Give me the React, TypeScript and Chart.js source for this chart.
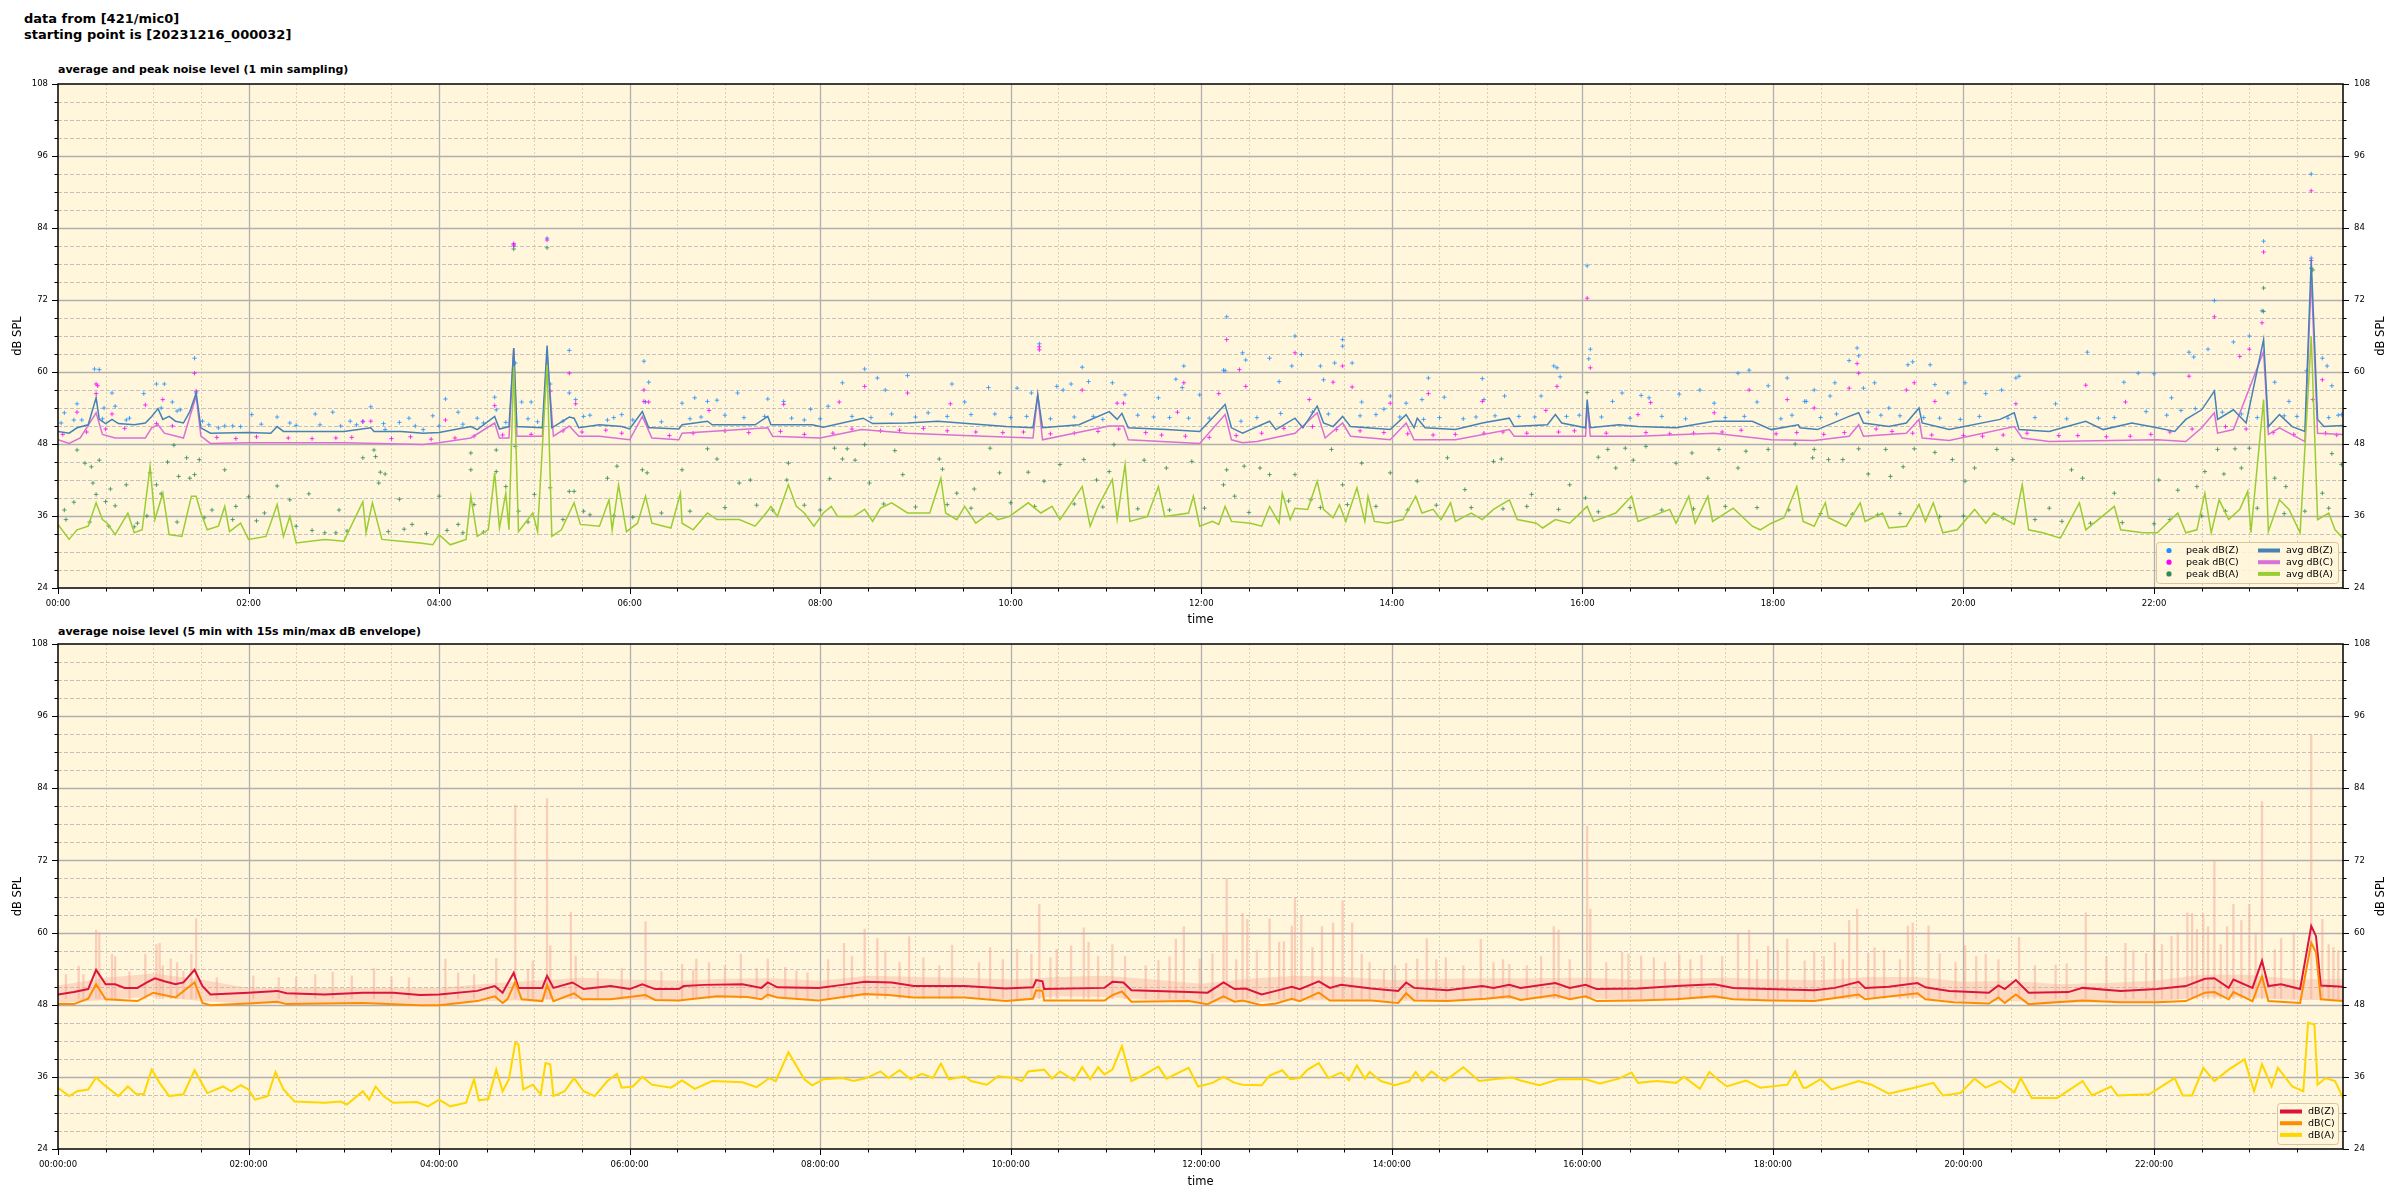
import React, { useEffect, useRef } from "react";
import { Chart, registerables } from "chart.js";
Chart.register(...registerables);

const FONT = '"DejaVu Sans", Verdana, sans-serif';
const BG = "#fff6dc";

// ---- axis ticks (minutes since start / dB) ----
const X_TICKS = [0, 120, 240, 360, 480, 600, 720, 840, 960, 1080, 1200, 1320];
const Y_TICKS = [24, 36, 48, 60, 72, 84, 96, 108];
const X_MAX = 1439;

// ================= TOP PANEL (1 min sampling) =================
// avg dB(Z) [minute, dB]
const avgZTop = [[0,50.1],[7,49.8],[12,50.7],[19,51.2],[24,55.7],[26,52.1],[30,51.4],[34,52.1],[38,51.4],[48,51.2],[55,51.5],[59,52.6],[63,53.9],[66,52.1],[70,52.6],[74,51.8],[79,51.5],[83,53.4],[87,56.5],[90,50.7],[96,49.8],[120,49.9],[134,49.8],[138,50.9],[142,50.1],[156,50.1],[180,50.1],[197,50.7],[199,50.1],[216,50.1],[230,49.8],[240,49.9],[250,50.4],[260,50.9],[264,50.4],[275,52.6],[278,50.5],[284,50.9],[287,64],[289,50.9],[305,50.7],[308,64.4],[311,50.7],[322,52.5],[325,52.3],[328,50.7],[341,51.2],[355,50.9],[360,50.5],[368,53.4],[372,50.7],
[374,50.7],[391,50.5],[393,51.2],[409,51.8],[412,51.2],[439,51.2],[447,52.6],[449,51.2],[475,51.2],[482,50.8],[507,52.3],[513,51.4],[535,51.5],[554,51.8],[583,51.2],[597,50.9],[614,50.7],[617,56.2],[620,50.7],[643,51.2],[662,53.4],[667,52.1],[670,53.1],[674,50.7],[698,50.4],[719,50.1],[735,54.6],[739,50.7],
[746,49.8],[751,50.4],[763,51.8],[767,50.4],[779,52.3],[784,50.7],[793,54.3],[797,51.5],[803,50.9],[809,52.6],[814,50.9],[839,50.4],[849,52.9],[854,50.7],[856,52.3],[861,50.7],[880,50.4],[897,51.5],[914,52.3],[917,50.9],[938,51.2],[943,52.9],[947,51.5],[962,50.7],[963,55.4],[965,50.7],[983,51.2],[995,50.9],[1019,50.7],[1043,51.8],[1067,51.8],[1079,50.4],[1096,51.2],
[1097,50.7],[1108,50.4],[1128,52.6],[1134,53.2],[1137,51.5],[1153,50.9],[1164,51.5],[1172,54],[1174,51.5],[1191,50.4],[1223,52.1],[1232,53.2],[1235,50.4],[1254,50.1],[1277,51.8],[1288,50.4],[1306,51.5],[1322,50.7],[1333,50.1],[1340,52.1],[1350,53.7],[1358,56.8],[1360,52.1],[1370,53.7],[1378,51.5],[1389,65.4],[1392,50.9],[1399,52.9],[1407,50.9],[1415,50.1],[1419,78.7],[1423,52.1],[1427,50.9],[1439,51.1]];

// avg dB(C)
const avgCTop = [[0,48.7],[7,48.1],[14,49],[24,53.2],[28,49.6],[36,49],[55,49],[59,50.7],[63,51.2],[67,49.8],[79,49],[87,56],[90,49.3],[96,48.1],[120,48.2],[180,48.2],[230,47.9],[240,48.2],[260,49],[275,51.5],[278,49],[284,49],[287,64],[289,49.3],[305,49.3],[308,63],[312,49.3],[322,51],[328,49.3],[341,49.3],[360,48.7],[368,52.6],[374,49],
[391,48.7],[393,49.8],[447,50.7],[450,49.3],[480,49],[506,50.4],[535,49.8],[583,49.3],[614,49],[617,56.2],[620,48.7],[662,51],[671,51],[674,48.7],[719,48.1],[735,52.9],[739,48.7],
[746,48.2],[755,48.4],[779,49.8],[793,53.2],[798,49],[809,51.5],[814,49.3],[839,48.7],[849,51.5],[854,48.7],[880,48.7],[914,50.4],[917,49.3],[962,49.3],[963,54.3],[965,49.3],[995,49.3],[1043,49.8],[1079,48.7],[1106,48.6],
[1128,49.3],[1134,51.2],[1137,49.3],[1164,49.8],[1172,52.1],[1174,49],[1191,48.6],[1232,50.9],[1237,49],[1254,48.4],[1322,48.7],[1340,48.4],[1350,50.7],[1358,53.2],[1360,49.8],[1370,50.4],[1389,63.4],[1392,49.6],[1399,50.7],[1415,48.4],[1419,75.9],[1423,49.8],[1439,49.6]];

// avg dB(A)
const avgATop = [[0,34.6],[7,32.1],[12,33.7],[19,34.3],[24,38.2],[28,35.4],[31,34.8],[36,32.9],[44,36.5],[48,33.2],[53,33.7],[58,44.3],[61,35.4],[66,39.8],[70,32.9],[78,32.6],[84,39.3],[87,39.3],[90,36.5],[94,33.7],[101,34.3],[105,37.6],[108,33.4],[115,34.8],[120,32.1],[131,32.6],[138,37.9],[142,32.6],[146,35.9],[150,31.5],[168,32.1],[180,31.8],[192,38.4],[194,33.2],[198,38.2],[204,32.1],[216,31.8],[228,31.5],[236,31.2],[240,32.9],[247,31.2],[257,32.1],[260,39.3],[264,32.6],[271,33.7],[275,43.2],[278,34],[282,39.8],[284,33.7],[287,60.9],[290,33.4],[299,36.5],[302,33.4],[308,61.2],[311,32.6],[317,33.7],[325,38.2],[329,34.6],[341,34.3],[347,38.7],[349,33.7],[353,41.2],[358,33.4],[365,34.8],[370,39.3],[374,34.8],
[386,34],[392,39.8],[393,34.8],[400,33.7],[409,36.5],[415,35.4],[429,35.4],[439,34.3],[446,36.5],[449,37.6],[453,35.9],[460,41.2],[465,37.6],[470,36.5],[476,34.3],[482,36.5],[487,37.6],[491,35.9],[501,35.9],[508,37.1],[513,35.1],[518,37.3],[525,38.2],[535,36.5],[549,36.5],[556,42.3],[559,36.5],[566,35.4],[571,37.6],[578,34.8],[587,36.5],[592,35.4],[599,35.9],[611,38.2],[619,36.5],[626,37.6],[631,35.4],[645,40.9],[650,34.3],[655,37.6],[664,42.1],[667,35.4],[672,44.6],[675,35.1],[686,35.9],[693,40.9],[697,35.9],[712,36.5],[715,39.3],[719,34.3],[727,35.1],[731,34.6],[735,37.6],
[739,35.1],[751,34.8],[758,34.3],[763,37.6],[769,34.8],[771,39.8],[776,35.4],[779,37.3],[787,37.1],[793,41.8],[797,37.1],[803,35.7],[807,37.9],[811,35.1],[818,40.7],[823,35.1],[825,39.3],[829,35.1],[837,34.8],[847,35.4],[855,39.3],[859,36.5],[866,37.1],[871,35.4],[877,38.2],[880,35.1],[890,36.5],[897,35.4],[904,37.1],[914,38.7],[919,35.4],[931,34.8],[935,34],[943,35.4],[952,34.8],[963,37.6],[967,35.1],[981,36.5],[991,39.3],[995,35.1],[1015,37.1],[1019,34.8],[1027,39.3],[1031,34.8],[1039,39.3],[1042,35.1],[1055,37.3],[1067,34.3],[1072,33.7],[1079,34.8],[1087,35.7],[1095,40.9],[1099,35.1],
[1106,34.3],[1113,38.2],[1115,35.7],[1126,34.3],[1135,38.2],[1138,35.1],[1149,36.5],[1153,34],[1164,34.3],[1172,37.9],[1176,35.1],[1181,38.2],[1187,33.2],[1196,33.7],[1207,37.1],[1214,34.8],[1219,36.5],[1232,34.6],[1237,41.2],[1241,33.7],[1250,33.2],[1261,32.3],[1273,38.2],[1277,33.7],[1295,37.6],[1299,33.7],[1313,33.2],[1322,33.2],[1335,36.5],[1340,33.2],[1347,33.7],[1352,39.8],[1356,33.2],[1361,38.7],[1367,35.4],[1374,37.1],[1379,40.1],[1381,33.2],[1389,55.4],[1392,33.4],[1399,38.7],[1405,37.1],[1412,33.2],[1419,65.9],[1423,35.4],[1430,36.5],[1434,33.7],[1439,32.3]];

// peak dB(Z) scatter
const peakZ = [[2,51.5],[15,52],[28,52.2],[45,52.3],[65,54],[75,53.5],[95,51.2],[105,51],[115,50.9],[128,51.3],[150,51.1],[165,51.2],[178,51],[188,51.2],[205,51.4],[215,51.6],[225,51],[240,51],[255,51.3],[268,51.5],[282,51.6],[296,52.2],[302,51.7],[318,51.8],[335,52.8],[350,52.4],[362,52],[380,51.7],[398,52.2],[405,52.5],[420,52.8],[432,52.4],[445,52.6],[462,52.3],[470,52],[480,52.2],[500,52.6],[512,52.4],[525,53],[540,52.5],[548,53.2],[560,52.6],[575,52.9],[590,53],[600,52.4],[610,52.6],[625,52.2],[640,52.5],[652,52.6],[658,52.1],[680,52.8],[690,52.5],[700,52.4],[712,52.3],[725,52.3],[745,51.8],[755,52.4],[770,53.1],[790,53.3],[800,53],[820,52.7],[830,52.9],[845,52.5],[860,52.1],[870,52.4],[885,52.2],[893,52.5],[905,52.7],[920,52.6],[930,52.5],[950,52.6],[958,52.8],[972,52.5],[990,52.3],[1010,52.6],[1025,52.2],[1050,52.4],[1062,52.6],[1085,52.2],[1092,52.8],[1110,52.4],[1120,53],[1140,53.3],[1148,52.8],[1160,52.7],[1175,52.4],[1185,52.3],[1198,52.1],[1210,52.6],[1228,52.3],[1245,52.4],[1265,52.2],[1285,52.3],[1295,52.4],[1315,53.4],[1328,52.8],[1337,53.6],[1346,53.9],[1363,53.3],[1375,53],[1385,52.4],[1402,52.7],[1410,52.6],[1430,52.4],[1436,52.8],
[4,53.2],[10,52],[12,54.7],[23,60.5],[26,60.4],[29,54],[34,56.5],[36,54.3],[43,52],[54,56.4],[62,58],[67,58],[72,55],[77,53.7],[86,62.3],[87,56.5],[91,51.8],[101,50.7],[110,51],[122,52.9],[138,52.5],[146,51.5],[162,53],[173,53.3],[184,51.8],[192,51.7],[197,54.2],[206,50.4],[221,52.3],[230,50.4],[236,52.7],[244,55.5],[252,53.3],[264,52.3],[275,55.8],[276,53.7],[287,81.2],[288,61.5],[292,55],[298,55],[308,82.3],[310,58],[322,63.6],[322,56.5],[326,55.4],[331,52.6],[346,52],[355,52.9],[369,61.8],[370,55],
[372,58.3],[393,54.8],[401,55.7],[409,55.1],[415,55.3],[428,56.5],[447,55.5],[457,55.1],[474,53.8],[485,54.3],[494,58.2],[508,60.5],[516,59],[521,57],[535,59.4],[563,58],[571,55],[586,57.4],[604,57.3],[613,56.5],[618,64.7],[629,57.6],[633,57],[638,58],[645,60.8],[649,58.4],[664,58.2],[672,56.2],[693,55.7],[704,58.8],[708,57.4],[709,61],[719,56.2],[734,60.3],[736,69.2],
[735,60.2],[746,63.2],[748,62],[763,62.3],[769,58.4],[777,61],[779,66],[783,62.9],[795,61],[797,58.7],[804,61.5],[809,65.4],[809,64.3],[815,61.5],[821,55],[835,53.8],[839,56],[849,54.8],[859,55.4],[863,59],[873,55.8],[897,58.9],[898,55.4],[911,56],[934,56],[942,61],[944,60.7],[946,59.2],[963,77.7],[965,63.8],[964,62.2],[979,55.1],[985,56.5],[997,56.1],[1002,55.7],[1021,56.3],[1034,57],[1043,54.8],[1058,59.8],[1065,60.3],[1070,55],[1077,57.7],[1089,59],[1100,55.1],
[1101,55.1],[1106,57],[1116,56],[1119,58.2],[1128,61.9],[1133,64],[1134,62.7],[1137,57.3],[1144,58.2],[1153,54],[1165,61.2],[1168,61.7],[1179,61.2],[1182,57.9],[1190,56.5],[1201,58.2],[1214,56.4],[1224,57],[1233,59],[1235,59.3],[1258,54.7],[1278,63.3],[1301,58.3],[1310,59.8],[1320,59.7],[1331,55.7],[1342,63.3],[1345,62.5],[1354,63.8],[1358,71.9],[1370,65],[1380,66],[1389,81.8],[1388,70.2],[1396,58.3],[1405,55.1],[1416,60.2],[1419,79],[1419,93],[1426,62.3],[1429,61],[1432,57.7],[1438,52.9]];

// peak dB(C) scatter
const peakC = [[3,49.6],[18,50],[30,50.5],[42,50.6],[62,51.4],[72,51],[100,49.1],[112,48.9],[125,49.2],[145,49],[160,48.9],[175,49],[185,49.1],[210,48.9],[222,49.2],[235,48.8],[250,49],[262,49.3],[280,49.5],[298,49.6],[318,50.2],[330,50],[345,50.3],[355,49.8],[385,49.4],[400,49.8],[420,50.2],[435,49.9],[455,50.1],[470,49.6],[488,49.8],[500,50.5],[518,50.2],[530,50.3],[545,50.6],[560,50.2],[578,50],[595,49.9],[608,50],[625,49.7],[640,49.8],[655,50.1],[668,50.5],[685,49.9],[695,49.5],[710,49.3],[725,49.1],[742,49.4],[758,49.8],[772,50.6],[790,50.9],[805,50.4],[820,50.2],[835,49.9],[850,49.7],[866,49.5],[880,49.6],[898,49.8],[910,50],[925,49.8],[945,50],[955,50.2],[975,49.8],[1000,49.9],[1015,49.7],[1030,49.8],[1048,50],[1060,50.3],[1082,49.7],[1095,49.9],[1112,49.6],[1125,49.9],[1145,50.5],[1155,50.1],[1168,49.8],[1180,49.5],[1200,49.4],[1212,49.3],[1225,49.5],[1240,49.8],[1260,49.4],[1272,49.4],[1290,49.2],[1305,49.3],[1318,49.6],[1330,50],[1344,50.5],[1365,50.9],[1378,50.5],[1395,49.9],[1408,49.6],[1428,49.8],[1435,49.5],
[12,53.3],[24,58],[25,57.7],[24,56.4],[34,53],[55,54.5],[66,55.4],[86,59.8],[87,56.8],[192,51.8],[197,51.8],[244,52],[275,54.4],[287,81.4],[287,81],[308,82],[310,56.8],[322,59.8],[326,54.7],[369,57],[369,55.1],[372,55],[410,53.6],[457,54.6],[492,55],[508,57.6],[535,56.5],[562,54.7],[618,63.7],[618,64.2],[645,57],[667,54.8],[671,54.8],[705,53.3],[709,58.2],[731,56.4],[736,65.4],[744,60.4],[748,57.6],[779,63.2],[788,55.4],[803,58.3],[809,61],[815,57.5],[839,54.8],[863,56.4],[897,55.1],[937,53.6],[944,57.6],[963,72.3],[965,60.7],[995,52.9],[1003,54.9],[1043,53.2],[1065,57],[1089,55.4],[1106,54],[1128,57.3],[1133,61.4],[1134,59.8],[1164,57],[1169,58.2],[1182,55.1],[1233,54.7],[1277,57.8],[1302,55],[1342,59.3],[1358,69.2],[1374,62.6],[1380,63.8],[1389,80],[1388,68.2],[1419,78.6],[1419,90.2],[1426,58.7],[1420,55.4]];

// peak dB(A) scatter
const peakA = [[5,35.4],[20,35],[32,34.3],[48,34.2],[56,36],[75,35],[92,35.7],[110,35.4],[125,35.2],[150,34.3],[160,33.6],[175,33.2],[182,33.5],[208,33.4],[218,33.8],[232,33.1],[245,33.6],[255,33.2],[268,33.3],[296,35],[318,35.4],[335,36.2],[350,36],[362,35.8],[380,36.5],[398,36.8],[420,37.4],[440,37.8],[450,37],[470,37.8],[480,37],[520,38],[540,37.5],[560,37.9],[575,37.3],[600,38.2],[615,37.6],[640,38],[658,37.5],[680,37.2],[700,37],[722,37.3],[750,36.6],[775,38.5],[795,37.4],[812,37.9],[830,37.6],[850,37],[868,37.8],[890,37.4],[910,37.2],[925,37.6],[945,37.1],[970,36.7],[990,37.4],[1010,37],[1030,37.2],[1050,37.6],[1070,37.4],[1090,37],[1110,36.4],[1130,36.3],[1146,36.2],[1160,36.4],[1185,35.9],[1200,36],[1225,35.6],[1245,35.4],[1262,35.1],[1280,34.8],[1300,34.9],[1320,34.7],[1330,35.4],[1350,36],[1365,36.8],[1385,37.3],[1402,36.4],[1415,36.8],[1430,37.3],
[4,37],[10,38.3],[12,47],[17,44.8],[21,44.2],[22,41.5],[24,39.6],[26,45.3],[30,38.4],[33,40.5],[36,37.7],[43,41.2],[50,34.8],[58,43.2],[62,41.2],[65,39.7],[69,45],[73,47.8],[76,42.6],[81,45.7],[83,42.3],[86,42.9],[89,45.4],[97,37],[105,43.7],[112,37.6],[120,39.2],[130,36.5],[138,41],[146,38.7],[158,39.7],[168,33.2],[177,37],[192,45.7],[199,47],[200,45.9],[202,41.5],[203,43.3],[206,43],[215,38.8],[223,34.6],[240,39.3],[252,34.6],[260,46.5],[260,43.7],[262,37.9],[276,47],[276,43.4],[282,40.9],[287,80.5],[288,47.6],[290,36.8],[300,39.6],[308,80.7],[310,40.7],[322,40.1],[325,40.1],[331,36.8],[346,42.3],[352,44.3],[368,43.7],[371,43.2],
[393,43.7],[409,47.2],[415,45.5],[429,41.5],[436,42],[459,42],[460,44.8],[486,42.2],[489,47.3],[494,45.5],[497,47.2],[502,45.3],[508,47.9],[511,41.5],[527,46.9],[532,42.9],[555,45.5],[557,43.8],[566,39.8],[577,40.5],[587,47.3],[593,43.2],[611,43.3],[621,41.8],[631,44.6],[646,45.4],[654,42],[662,43.4],[665,47.9],[684,45.3],[698,44],[714,45.1],[736,43.7],[741,39.3],
[734,41.2],[747,44.3],[757,44],[763,42.9],[779,42.9],[789,38.7],[802,47.1],[809,41.2],[821,44.8],[839,43.2],[856,41.8],[875,45.7],[886,40.4],[904,45.1],[909,45.5],[928,39.6],[952,41.2],[963,56.6],[962,39],[970,45.8],[976,47.1],[981,44],[987,47.3],[992,45.3],[1000,47.6],[1019,44.8],[1029,46.5],[1039,42.3],[1046,47.1],[1058,44],[1063,46.8],[1077,47.1],[1094,48],[1105,45.7],
[1106,47.1],[1115,45.4],[1124,45.4],[1134,47.2],[1140,43],[1151,47.1],[1154,42.6],[1162,44.2],[1169,47.2],[1182,46.6],[1193,45.4],[1201,41.8],[1207,44],[1221,47.1],[1231,45.4],[1254,37.3],[1268,43.7],[1275,42.3],[1295,39.8],[1323,42],[1335,40.3],[1347,40.9],[1352,43.4],[1360,47.1],[1364,43],[1371,47.2],[1375,44],[1380,47.3],[1389,74],[1389,70.1],[1396,42.3],[1403,40.9],[1419,77.3],[1420,77],[1426,39.8],[1432,46.4],[1438,44.6]];

// ================= BOTTOM PANEL (5 min avg + 15s envelope) =================
const botZ = [[0,49.7],[10,50.1],[19,50.6],[24,53.8],[30,51.4],[36,51.4],[42,50.8],[50,50.8],[56,51.7],[61,52.4],[67,51.9],[74,51.4],[79,51.7],[86,53.8],[91,51.1],[96,49.7],[120,50],[138,50.3],[144,49.9],[168,49.7],[192,50],[211,50],[228,49.6],[240,49.7],[264,50.3],[275,51.1],[280,50],[287,53.3],[290,50.8],[305,50.8],[308,52.8],[312,50.8],[324,51.7],[331,50.6],[348,51.1],[360,50.6],[368,51.4],
[376,50.6],[391,50.6],[394,51.1],[407,51.3],[431,51.4],[443,50.8],[447,51.7],[453,50.9],[479,50.8],[494,51.3],[508,51.8],[525,51.7],[539,51.1],[571,51.1],[597,50.7],[614,50.9],[616,52.1],[620,51.9],[621,50.6],[659,50.8],[664,51.8],[671,51.7],[676,50.4],[712,50.1],[724,50],[734,51.7],[741,50.6],
[748,50.7],[758,49.7],[767,50.3],[777,51],[782,50.6],[794,51.9],[801,50.8],[808,51.3],[827,50.7],[844,50.3],[849,51.7],[854,50.8],[875,50.4],[897,51.1],[904,50.8],[914,51.3],[921,50.8],[943,51.6],[952,50.8],[962,51.3],[969,50.6],[995,50.7],[1019,51.1],[1043,51.4],[1055,50.8],[1077,50.6],[1106,50.4],
[1119,50.8],[1134,51.8],[1138,50.8],[1153,51],[1171,51.6],[1176,50.9],[1191,50.3],[1216,50],[1222,51.2],[1226,50.6],[1233,52.1],[1241,50],[1266,50.1],[1275,50.8],[1299,50.3],[1322,50.6],[1340,51.1],[1352,52.3],[1358,52.4],[1367,50.8],[1370,52.2],[1382,50.8],[1388,55.3],[1392,51.1],[1400,51.4],[1412,50.6],[1419,61.1],[1422,59.4],[1425,51.2],[1439,51]];

const botC = [[0,48.1],[10,48.1],[19,49],[24,51.4],[30,48.9],[50,48.6],[60,50],[74,49.2],[86,51.7],[91,48.3],[96,47.9],[120,48.2],[138,48.5],[144,48.1],[192,48.3],[228,47.9],[240,47.9],[264,48.6],[275,49.4],[280,48.3],[283,48.9],[288,51.8],[292,48.9],[305,48.6],[308,51.3],[312,48.6],[325,49.9],[330,48.9],[348,48.9],[370,49.6],[376,48.8],
[391,48.7],[415,49.4],[434,49.3],[443,48.9],[447,49.7],[453,49.2],[479,48.7],[508,49.8],[523,49.6],[539,49.2],[571,49.2],[597,48.6],[614,49],[616,50.4],[620,50.3],[621,48.7],[659,48.7],[664,49.6],[670,50.2],[676,48.5],[712,48.6],[724,48.1],[734,49.4],[741,48.5],
[746,48.7],[758,47.9],[767,48.2],[777,49],[782,48.6],[794,50],[801,48.7],[827,48.7],[844,48.3],[849,49.9],[854,48.7],[875,48.6],[899,49],[914,49.4],[921,48.8],[943,49.6],[952,48.9],[962,49.4],[969,48.6],[995,48.7],[1019,48.9],[1043,49.4],[1055,48.9],[1079,48.7],[1106,48.6],
[1134,49.7],[1138,48.9],[1171,49.9],[1176,48.9],[1194,48.4],[1216,48.2],[1222,49.2],[1226,48.3],[1233,49.7],[1241,48.1],[1275,48.7],[1299,48.4],[1322,48.4],[1340,48.6],[1352,50],[1358,50.1],[1367,48.9],[1370,50.1],[1382,48.6],[1388,52.7],[1392,48.6],[1412,48.3],[1419,58.3],[1422,56.7],[1425,48.9],[1439,48.6]];

const botA = [[0,34.2],[7,32.8],[12,33.6],[19,33.9],[24,35.9],[29,34.7],[38,32.8],[44,34.4],[49,33.2],[54,33.1],[59,37.2],[64,35],[70,32.8],[79,33.1],[86,37.1],[94,33.3],[104,34.4],[109,33.6],[115,34.6],[120,33.9],[124,32.2],[132,32.8],[137,36.8],[142,33.9],[149,31.9],[168,31.7],[178,31.9],[182,31.4],[192,33.6],[196,32.2],[200,34.4],[205,32.8],[211,31.7],[226,31.8],[233,31.1],[240,32.2],[247,31.1],[257,31.7],[262,35.6],[265,32.1],[271,32.3],[276,37.2],[280,33.6],[284,35.6],[288,41.7],[290,41.4],[293,33.9],[299,34.7],[304,33.1],[307,38.3],[310,38.1],[312,32.8],[319,33.6],[325,35.8],[331,33.6],[338,32.8],[346,35.3],[352,36.5],[355,34.2],[362,34.4],[368,36],[374,34.7],
[386,34.2],[393,35.4],[401,34],[412,35.3],[431,35.1],[440,34.3],[448,35.8],[452,35.3],[460,40.1],[470,35.6],[475,34.6],[482,35.6],[494,35.8],[501,35.3],[509,35.8],[518,36.9],[523,35.8],[530,37.1],[537,35.6],[544,36.5],[551,35.8],[556,38.2],[561,35.6],[571,36.1],[575,35.3],[585,34.7],[592,36.1],[602,35.8],[607,35.3],[611,36.9],[621,37.2],[626,35.7],[631,36.9],[640,35.4],[645,37.6],[650,35.6],[655,37.6],[659,36.4],[664,37.2],[670,41.1],[676,35.3],[683,36.2],[693,37.7],[698,35.7],[712,37.5],[718,34.4],[727,35],[734,36],[741,35],
[746,34.7],[758,34.6],[763,36.2],[771,37.1],[776,35.6],[782,35.8],[787,37.2],[794,38.3],[800,35.8],[808,36.7],[813,35.4],[818,37.9],[823,35.7],[826,36.8],[833,35.3],[842,34.6],[851,35.3],[855,36.8],[859,35.3],[865,36.9],[873,35.3],[878,36.2],[885,37.6],[895,35.3],[907,35.7],[916,35.9],[921,35.4],[933,34.6],[945,35.6],[962,35.6],[971,34.9],[983,35.7],[991,36.7],[995,35],[1007,35.3],[1019,35],[1024,36],[1034,34],[1040,36.8],[1046,35.4],[1051,34.4],[1063,35.4],[1072,34.2],[1089,34.7],[1094,36.9],[1099,34.2],
[1101,34.2],[1110,35.6],[1117,33.9],[1134,35.3],[1142,34.7],[1153,33.2],[1169,34.2],[1181,35],[1187,32.9],[1198,33.3],[1207,35.7],[1214,34.2],[1223,35.3],[1232,33.4],[1236,35.8],[1243,32.5],[1259,32.5],[1275,35.3],[1281,32.9],[1293,34.4],[1297,32.9],[1317,33.1],[1333,35.8],[1338,32.9],[1344,32.9],[1351,37.5],[1358,35.3],[1367,37.2],[1377,38.9],[1383,33.6],[1388,38.1],[1394,34.4],[1398,37.5],[1407,34.4],[1414,33.6],[1417,45],[1421,44.7],[1423,34.7],[1428,35.8],[1434,35.3],[1439,32.5]];

// 15 s min/max envelope: band sampled every 30 min
const envBandT = [0,30,60,90,120,150,180,210,240,270,300,330,360,390,420,450,480,510,540,570,600,630,660,690,720,750,780,810,840,870,900,930,960,990,1020,1050,1080,1110,1140,1170,1200,1230,1260,1290,1320,1350,1380,1410,1439];
const envBandLo = [48.3,48.8,49.4,48.6,48.2,48.2,48.2,48.2,48.1,48.6,48.8,49,48.8,48.8,49.2,49.2,48.9,49.5,49.4,49.3,48.8,49.4,49.3,48.8,48.4,48.4,48.7,48.8,48.6,48.7,48.9,49,49.1,48.8,48.9,49,48.8,48.8,49.2,49.2,48.5,48.6,48.3,48.4,48.5,49.3,49.2,48.8,48.8];
const envBandHi = [51.2,52.5,53.2,52.2,50.8,50.8,50.8,50.8,50.8,51.5,52,52.5,52.2,52,52.3,52.4,52,52.8,52.6,52.5,52.2,52.6,52.8,52.2,51.5,52.3,52.8,52.6,52.1,52.3,52.4,52.4,52.5,52.2,52.3,52.5,52.2,52.1,52.6,52.6,51.8,52,51.4,51.6,52,53,53,52.2,52.3];
// envelope maxima (spikes) [minute, max dB]
const envSpikes = [[5,53],[13,54.4],[24,60.4],[26,60],[34,56.4],[36,56],[55,56.4],[62,58],[64,58.2],[71,55.6],[79,53.6],[84,56.4],[87,62.3],[123,52.8],[139,52.5],[162,53],[173,53.4],[199,54],[221,52.5],[244,55.6],[252,53.3],[276,55.7],[288,81.2],[299,55.3],[308,82.3],[310,57.8],[323,63.4],[326,56.1],[370,61.8],
[393,54.7],[402,55.6],[410,55],[430,56.4],[447,55.6],[458,54.2],[472,53.3],[495,58.2],[508,60.6],[516,59],[521,57],[536,59.3],[563,57.9],[587,57.5],[604,57.2],[613,56.4],[618,64.7],[629,57.2],[638,57.8],[646,60.8],[649,58.4],[664,58],[672,56],[693,55.4],[704,58.9],[709,61],[719,55.6],[734,59.9],[736,69],
[746,63.2],[749,62.2],[763,62.3],[769,58.4],[777,61.1],[779,65.7],[783,62.8],[796,61],[803,61.6],[809,65.3],[815,61.6],[821,56.4],[835,53.9],[849,54.9],[856,55.6],[862,59],[874,55.8],[896,58.9],[904,55],[914,54.7],[934,56],[942,61],[945,60.4],[963,77.7],[965,63.9],[985,56.7],[989,56.4],[997,56.1],[1021,56.4],[1035,56.2],[1058,59.7],[1065,60.4],[1077,57.7],[1089,58.9],[1100,55.3],
[1106,56.9],[1119,58.3],[1128,62],[1133,63.9],[1144,57.5],[1165,61.1],[1168,61.6],[1178,61.1],[1201,57.8],[1214,56.4],[1235,59.2],[1258,54.6],[1277,63.3],[1302,58.2],[1320,59.7],[1331,59.4],[1341,63.3],[1344,63.2],[1351,63.1],[1358,71.8],[1370,64.7],[1380,64.7],[1388,81.8],[1396,57.2],[1419,92.8],[1426,62.2],[1433,57.5],
[16,53],[45,53.5],[66,54.5],[75,55],[100,52.5],[150,52.6],[185,52.8],[210,52.6],[262,53],[296,53.8],[340,53.5],[355,54],[380,53.5],[400,53.8],[420,54.5],[440,54],[465,53.6],[485,55.5],[500,56],[530,55],[545,55.8],[555,54.5],[580,55],[595,55.5],[625,55.8],[655,56],[685,54.5],[700,56],[727,56.5],[742,55.5],[755,57],[772,58.5],[790,57.5],[826,55],[842,54.5],[868,55.5],[885,54.5],[910,55.5],[925,54.5],[952,55.5],[975,55],[1005,55.8],[1012,55],[1028,55.5],[1048,56],[1070,55.5],[1083,57],[1112,56],[1124,55.5],[1140,56.5],[1150,57],[1160,55.5],[1185,56.5],[1195,55],[1208,56],[1222,55.5],[1245,54.5],[1265,54.8],[1290,56],[1307,57],[1315,56.5],[1325,58],[1335,60],[1347,60.5],[1354,61],[1362,58],[1366,61],[1375,62],[1384,60],[1400,59],[1408,60],[1430,58],[1436,57]];
const ENV_SPIKE_BASE = 49;

// ---------------- helpers ----------------
const xy = (a: number[][]) => a.map(([x, y]) => ({ x, y }));
const p2 = (n: number) => String(n).padStart(2, "0");
const fmtHM = (m: number) => `${p2(Math.floor(m / 60))}:${p2(Math.round(m % 60))}`;
const fmtHMS = (m: number) => `${fmtHM(m)}:00`;

type LegendItem = { kind: "dot" | "line"; ds: number };
type DecorCfg = {
  legendCols: LegendItem[][];
  colX: number[];
  legendW: number;
  xTitleY: number; // canvas coordinate of "time" centre
};

function decorPlugin(cfg: DecorCfg) {
  return {
    id: "decor",
    beforeDraw(chart: any) {
      const { ctx, chartArea: a } = chart;
      ctx.save();
      ctx.fillStyle = BG;
      ctx.fillRect(a.left, a.top, a.right - a.left, a.bottom - a.top);
      ctx.restore();
    },
    beforeDatasetsDraw(chart: any) {
      const { ctx, chartArea: a, scales } = chart;
      const sx = scales.x, sy = scales.y;
      ctx.save();
      ctx.lineWidth = 1;
      // minor vertical (30 min)
      ctx.strokeStyle = "#d8d2bf";
      ctx.setLineDash([2, 2]);
      for (let t = 30; t < X_MAX; t += 30) {
        if (t % 120 === 0) continue;
        const px = Math.round(sx.getPixelForValue(t)) + 0.5;
        ctx.beginPath(); ctx.moveTo(px, a.top); ctx.lineTo(px, a.bottom); ctx.stroke();
      }
      // minor horizontal (3 dB)
      ctx.strokeStyle = "#c4c2ba";
      ctx.setLineDash([4, 2]);
      for (let v = 27; v < 108; v += 3) {
        if ((v - 24) % 12 === 0) continue;
        const py = Math.round(sy.getPixelForValue(v)) + 0.5;
        ctx.beginPath(); ctx.moveTo(a.left, py); ctx.lineTo(a.right, py); ctx.stroke();
      }
      // major
      ctx.setLineDash([]);
      ctx.strokeStyle = "#b0b0b0";
      ctx.lineWidth = 1.3;
      for (const t of X_TICKS) {
        if (t === 0) continue;
        const px = Math.round(sx.getPixelForValue(t)) + 0.5;
        ctx.beginPath(); ctx.moveTo(px, a.top); ctx.lineTo(px, a.bottom); ctx.stroke();
      }
      for (const v of Y_TICKS) {
        if (v === 24 || v === 108) continue;
        const py = Math.round(sy.getPixelForValue(v)) + 0.5;
        ctx.beginPath(); ctx.moveTo(a.left, py); ctx.lineTo(a.right, py); ctx.stroke();
      }
      ctx.restore();
    },
    afterDatasetsDraw(chart: any) {
      const { ctx, chartArea: a, scales } = chart;
      const sx = scales.x, sy = scales.y;
      ctx.save();
      // spines
      ctx.strokeStyle = "#000";
      ctx.lineWidth = 1.5;
      ctx.strokeRect(a.left, a.top, a.right - a.left, a.bottom - a.top);
      // tick marks
      ctx.lineWidth = 1;
      ctx.beginPath();
      for (let v = 24; v <= 108; v += 3) {
        const py = Math.round(sy.getPixelForValue(v)) + 0.5;
        const len = (v - 24) % 12 === 0 ? 6 : 3.5;
        ctx.moveTo(a.left, py); ctx.lineTo(a.left - len, py);
        ctx.moveTo(a.right, py); ctx.lineTo(a.right + len, py);
      }
      for (let t = 0; t <= X_MAX; t += 30) {
        const px = Math.round(sx.getPixelForValue(t)) + 0.5;
        const len = t % 120 === 0 ? 6 : 3.5;
        ctx.moveTo(px, a.bottom); ctx.lineTo(px, a.bottom + len);
      }
      ctx.stroke();

      // axis titles
      ctx.fillStyle = "#000";
      ctx.font = `11.5px ${FONT}`;
      ctx.textAlign = "center";
      ctx.textBaseline = "middle";
      ctx.fillText("time", (a.left + a.right) / 2, cfg.xTitleY);
      const cy = (a.top + a.bottom) / 2;
      for (const x of [18, 2381]) {
        ctx.save();
        ctx.translate(x, cy);
        ctx.rotate(-Math.PI / 2);
        ctx.fillText("dB SPL", 0, 0);
        ctx.restore();
      }

      // legend (lower right, inside the axes)
      const w = cfg.legendW, h = 41;
      const bx = a.right - 5 - w, by = a.bottom - 5 - h;
      ctx.beginPath();
      (ctx as any).roundRect(bx + 0.5, by + 0.5, w, h, 3);
      ctx.fillStyle = "rgba(255,246,220,0.85)";
      ctx.fill();
      ctx.strokeStyle = "#d9c59c";
      ctx.lineWidth = 1;
      ctx.stroke();
      ctx.font = `9.5px ${FONT}`;
      ctx.textAlign = "left";
      cfg.legendCols.forEach((col, ci) => {
        const cx = bx + cfg.colX[ci];
        col.forEach((it, ri) => {
          const ds = chart.data.datasets[it.ds];
          const yy = by + 8.5 + ri * 11.7;
          const color = it.kind === "dot" ? ds.legendColor : ds.borderColor;
          if (it.kind === "dot") {
            ctx.beginPath();
            ctx.arc(cx + 11, yy, 2.6, 0, Math.PI * 2);
            ctx.fillStyle = color;
            ctx.fill();
          } else {
            ctx.beginPath();
            ctx.moveTo(cx, yy); ctx.lineTo(cx + 22, yy);
            ctx.strokeStyle = color;
            ctx.lineWidth = 4;
            ctx.stroke();
          }
          ctx.fillStyle = "#000";
          ctx.fillText(ds.label, cx + 28, yy + 0.5);
        });
      });
      ctx.restore();
    },
  };
}

function scalesFor(fmt: (m: number) => string, xHeight: number, xPad: number) {
  const yCommon = (pos: string, width: number, pad: number) => ({
    type: "linear",
    position: pos,
    min: 24,
    max: 108,
    afterBuildTicks: (s: any) => { s.ticks = Y_TICKS.map((value) => ({ value })); },
    afterFit: (s: any) => { s.width = width; },
    grid: { display: false, drawTicks: false },
    border: { display: false },
    ticks: { font: { family: FONT, size: 8.5 }, color: "#000", padding: pad, autoSkip: false },
  });
  return {
    x: {
      type: "linear",
      min: 0,
      max: X_MAX,
      offset: false,
      afterBuildTicks: (s: any) => { s.ticks = X_TICKS.map((value) => ({ value })); },
      afterFit: (s: any) => { s.height = xHeight; },
      grid: { display: false, drawTicks: false, offset: false },
      border: { display: false },
      ticks: {
        font: { family: FONT, size: 8.5 },
        color: "#000",
        padding: xPad,
        maxRotation: 0,
        autoSkip: false,
        callback: (v: any) => fmt(Number(v)),
      },
    },
    y: yCommon("left", 58, 10),
    y2: yCommon("right", 57, 11),
  };
}

function TopChart() {
  const ref = useRef<HTMLCanvasElement>(null);
  useEffect(() => {
    const chart = new Chart(ref.current!, {
      type: "line",
      data: {
        datasets: [
          { type: "line", label: "avg dB(Z)", data: xy(avgZTop), borderColor: "#4682b4", borderWidth: 1.5, pointRadius: 0, order: 1 },
          { type: "line", label: "avg dB(C)", data: xy(avgCTop), borderColor: "#da70d6", borderWidth: 1.5, pointRadius: 0, order: 2 },
          { type: "line", label: "avg dB(A)", data: xy(avgATop), borderColor: "#9acd32", borderWidth: 1.5, pointRadius: 0, order: 0 },
          { type: "scatter", label: "peak dB(Z)", data: xy(peakZ), pointStyle: "cross", pointRadius: 2.2, borderWidth: 1, borderColor: "rgba(30,144,255,0.8)", legendColor: "#1e90ff", order: 5 } as any,
          { type: "scatter", label: "peak dB(C)", data: xy(peakC), pointStyle: "cross", pointRadius: 2.2, borderWidth: 1, borderColor: "rgba(255,0,255,0.8)", legendColor: "#ff00ff", order: 4 } as any,
          { type: "scatter", label: "peak dB(A)", data: xy(peakA), pointStyle: "cross", pointRadius: 2.2, borderWidth: 1, borderColor: "rgba(46,139,87,0.8)", legendColor: "#2e8b57", order: 3 } as any,
        ],
      },
      options: {
        animation: false,
        responsive: false,
        devicePixelRatio: 1,
        events: [],
        layout: { padding: { top: 84, left: 0, right: 0, bottom: 0 } },
        plugins: { legend: { display: false }, tooltip: { enabled: false }, title: { display: false } },
        scales: scalesFor(fmtHM, 52, 10.5) as any,
      },
      plugins: [
        decorPlugin({
          legendCols: [
            [{ kind: "dot", ds: 3 }, { kind: "dot", ds: 4 }, { kind: "dot", ds: 5 }],
            [{ kind: "line", ds: 0 }, { kind: "line", ds: 1 }, { kind: "line", ds: 2 }],
          ],
          colX: [2, 102],
          legendW: 182,
          xTitleY: 620,
        }),
      ],
    } as any);
    return () => chart.destroy();
  }, []);
  return <canvas ref={ref} width={2400} height={640} style={{ position: "absolute", left: 0, top: 0, width: 2400, height: 640 }} />;
}

function BottomChart() {
  const ref = useRef<HTMLCanvasElement>(null);
  useEffect(() => {
    const band = (vals: number[]) => envBandT.map((t, i) => ({ x: t, y: vals[i] }));
    const chart = new Chart(ref.current!, {
      type: "line",
      data: {
        datasets: [
          { type: "line", label: "dB(Z)", data: xy(botZ), borderColor: "#dc143c", borderWidth: 2, pointRadius: 0, order: 1 },
          { type: "line", label: "dB(C)", data: xy(botC), borderColor: "#ff8c00", borderWidth: 2, pointRadius: 0, order: 0 },
          { type: "line", label: "dB(A)", data: xy(botA), borderColor: "#ffd700", borderWidth: 2, pointRadius: 0, order: 2 },
          { type: "line", label: "env lo", data: band(envBandLo), borderWidth: 0, pointRadius: 0, fill: false, order: 6 },
          { type: "line", label: "env hi", data: band(envBandHi), borderWidth: 0, pointRadius: 0, fill: "-1", backgroundColor: "rgba(246,170,150,0.38)", order: 6 },
          {
            type: "bar",
            label: "env max",
            data: envSpikes.map(([t, v]) => ({ x: t, y: [ENV_SPIKE_BASE, v] })),
            backgroundColor: "rgba(246,165,145,0.5)",
            borderWidth: 0,
            barThickness: 1.6,
            grouped: false,
            order: 7,
          } as any,
        ],
      },
      options: {
        animation: false,
        responsive: false,
        devicePixelRatio: 1,
        events: [],
        layout: { padding: { top: 44, left: 0, right: 0, bottom: 0 } },
        plugins: { legend: { display: false }, tooltip: { enabled: false }, title: { display: false } },
        scales: scalesFor(fmtHMS, 51, 10.3) as any,
      },
      plugins: [
        decorPlugin({
          legendCols: [[{ kind: "line", ds: 0 }, { kind: "line", ds: 1 }, { kind: "line", ds: 2 }]],
          colX: [3],
          legendW: 61,
          xTitleY: 582,
        }),
      ],
    } as any);
    return () => chart.destroy();
  }, []);
  return <canvas ref={ref} width={2400} height={600} style={{ position: "absolute", left: 0, top: 600, width: 2400, height: 600 }} />;
}

export default function App() {
  const bold = (size: number) => ({ fontFamily: FONT, fontWeight: 700, fontSize: size, color: "#000", position: "absolute" as const, whiteSpace: "pre" as const });
  return (
    <div style={{ position: "absolute", left: 0, top: 0, width: 2400, height: 1200, background: "#fff", overflow: "hidden" }}>
      <div style={{ ...bold(13), left: 24, top: 11, lineHeight: "16px" }}>
        {"data from [421/mic0]\nstarting point is [20231216_000032]"}
      </div>
      <div style={{ ...bold(11), left: 58, top: 63, lineHeight: "14px" }}>average and peak noise level (1 min sampling)</div>
      <div style={{ ...bold(11), left: 58, top: 625, lineHeight: "14px" }}>average noise level (5 min with 15s min/max dB envelope)</div>
      <TopChart />
      <BottomChart />
    </div>
  );
}
